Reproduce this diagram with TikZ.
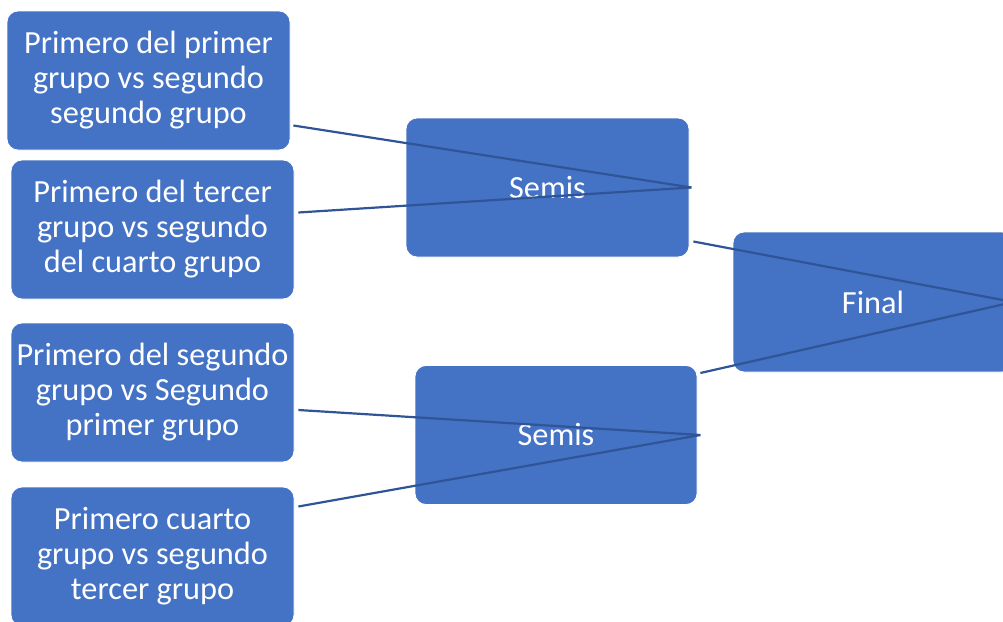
\documentclass[tikz,border=0pt]{standalone}
\usepackage{fontspec}
\setmainfont{Carlito}
\definecolor{boxblue}{HTML}{4472C4}
\definecolor{lineblue}{HTML}{2F5597}
\begin{document}
\begin{tikzpicture}[x=1pt,y=-1pt,
  box/.style={rectangle, rounded corners=11pt, fill=boxblue, draw=white, line width=0.8pt,
    text=white, align=center, inner sep=0pt, minimum width=283pt, minimum height=139pt,
    font=\fontsize{32.3}{35}\selectfont},
  link/.style={draw=lineblue, line width=2.2pt}]
\useasboundingbox (0,0) rectangle (1003,621);
\clip (0,0) rectangle (1003,621);
\node[box] (b1) at (148.5,80.5) {Primero del primer\\grupo vs segundo\\segundo grupo};
\node[box] (b2) at (152.5,229.5) {Primero del tercer\\grupo vs segundo\\del cuarto grupo};
\node[box] (b3) at (152.5,392.5) {Primero del segundo\\grupo vs Segundo\\primer grupo};
\node[box] (b4) at (152.5,556.5) {Primero cuarto\\grupo vs segundo\\tercer grupo};
\node[box, minimum width=283pt] (s1) at (547.5,187.5) {Semis};
\node[box, minimum width=282pt] (s2) at (556,435) {Semis};
\node[box, minimum width=280pt, minimum height=140pt] (f) at (873,302) {Final};
\draw[link] ([xshift=3pt,yshift=-45pt]b1.east) -- ([xshift=2pt]s1.east);
\draw[link] ([xshift=4pt,yshift=17pt]b2.east) -- ([xshift=2pt]s1.east);
\draw[link] ([xshift=4pt,yshift=-17.5pt]b3.east) -- ([xshift=3pt]s2.east);
\draw[link] ([xshift=4pt,yshift=50pt]b4.east) -- ([xshift=3pt]s2.east);
\draw[link] ([xshift=4pt,yshift=-54pt]s1.east) -- (f.east);
\draw[link] ([xshift=3pt,yshift=62pt]s2.east) -- (f.east);
\end{tikzpicture}
\end{document}
